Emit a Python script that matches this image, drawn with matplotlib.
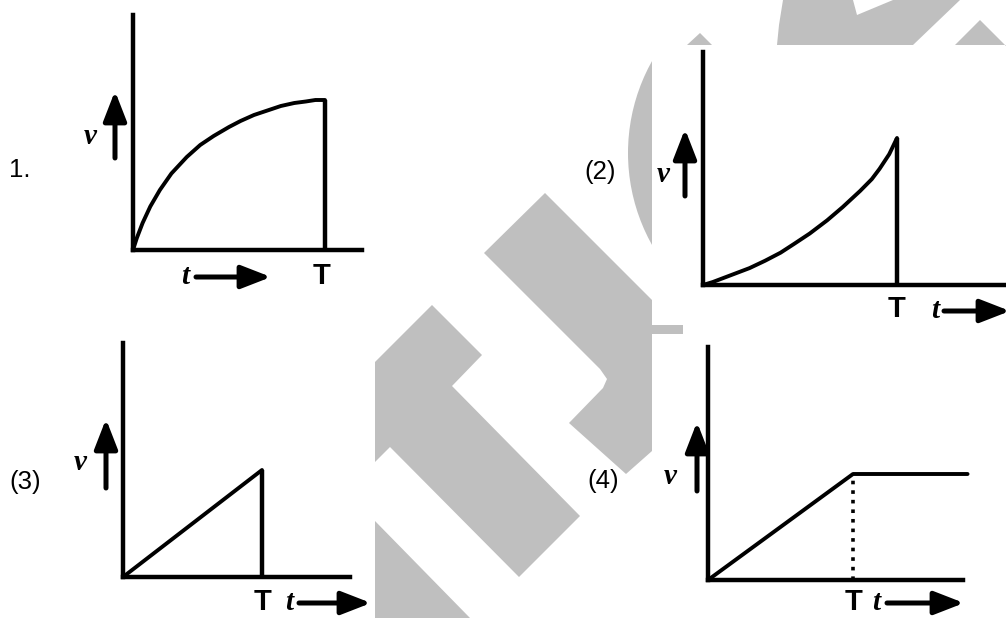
import numpy as np
import matplotlib.pyplot as plt
from matplotlib.patches import Polygon, Circle, Rectangle

W, H = 1006, 618

# velocity-time curves, t in units of T, v in units of v at T
t1 = [0, 0.02, 0.05, 0.09, 0.14, 0.20, 0.28, 0.35, 0.42, 0.50, 0.56, 0.63,
      0.70, 0.77, 0.84, 0.90, 0.95, 1.0]
v1 = [0, 0.08, 0.18, 0.29, 0.40, 0.51, 0.62, 0.70, 0.76, 0.82, 0.86, 0.90,
      0.93, 0.96, 0.98, 0.99, 1.0, 1.0]
t2 = [0, 0.05, 0.10, 0.17, 0.24, 0.32, 0.40, 0.47, 0.55, 0.64, 0.72, 0.81,
      0.87, 0.91, 0.96, 1.0]
v2 = [0, 0.02, 0.045, 0.08, 0.115, 0.165, 0.22, 0.28, 0.35, 0.44, 0.53, 0.64,
      0.72, 0.79, 0.89, 1.0]
t3 = [0, 1.0]
v3 = [0, 1.0]
t4 = [0, 1.0, 1.79]
v4 = [0, 1.0, 1.0]
T = 1.0

labels = ["1.", "(2)", "(3)", "(4)"]

fig = plt.figure(figsize=(W / 100, H / 100), dpi=100)
bg = fig.add_axes([0, 0, 1, 1])
bg.set_xlim(0, W)
bg.set_ylim(H, 0)
bg.axis("off")

# watermark
grey = "#bfbfbf"
wm = [
    [(484, 253), (545, 193), (652, 300), (652, 325), (683, 325), (683, 334),
     (652, 334), (652, 451), (626, 474), (569, 423), (603, 388), (607, 379), (600, 369)],
    [(375, 362), (432, 305), (482, 355), (452, 386), (580, 516), (519, 577),
     (390, 447), (375, 462)],
    [(375, 521), (470, 618), (375, 618)],
    [(687, 45), (700, 33), (712, 45)],
    [(777, 45), (779, 25), (783, 0), (853, 0), (857, 15), (893, 0), (960, 0), (913, 45)],
    [(955, 45), (980, 20), (1006, 46), (1006, 45)],
]
for pts in wm:
    bg.add_patch(Polygon(pts, closed=True, fc=grey, ec="none"))
arc = Circle((816, 153), 188, fc=grey, ec="none")
bg.add_patch(arc)
arc.set_clip_path(Rectangle((560, 45), 92, 255, transform=bg.transData))


def panel(x0, y0, xT, ypk, ytop, xright):
    ax = fig.add_axes([x0 / W, (H - y0) / H, (xright - x0) / W, (y0 - ytop) / H])
    ax.set_xlim(0, (xright - x0) / (xT - x0) * T)
    ax.set_ylim(0, (y0 - ytop) / (y0 - ypk))
    ax.patch.set_alpha(0)
    for s in ["top", "right"]:
        ax.spines[s].set_visible(False)
    for s in ["left", "bottom"]:
        ax.spines[s].set_linewidth(3.2)
    ax.set_xticks([])
    ax.set_yticks([])
    return ax


lw = 2.8
ax1 = panel(133, 250, 325, 100, 15, 362)
ax1.plot(t1, v1, color="black", lw=lw, clip_on=False, solid_capstyle="round")
ax1.vlines(T, 0, v1[-1], color="black", lw=3.2, clip_on=False)

ax2 = panel(703, 285, 897, 138, 52, 1010)
ax2.plot(t2, v2, color="black", lw=lw, clip_on=False, solid_capstyle="round")
ax2.vlines(T, 0, v2[-1], color="black", lw=3.2, clip_on=False)

ax3 = panel(123, 577, 262, 470, 343, 350)
ax3.plot(t3, v3, color="black", lw=lw, clip_on=False, solid_capstyle="round")
ax3.vlines(T, 0, v3[-1], color="black", lw=3.2, clip_on=False)

ax4 = panel(708, 580, 853, 474, 347, 963)
ax4.plot(t4, v4, color="black", lw=lw, clip_on=False, solid_capstyle="round")
ax4.vlines(T, 0, v4[1], color="black", lw=2.6, linestyles=":", clip_on=False)

# option numbers
numfont = dict(family="Liberation Sans", fontsize=18.5, va="center", ha="center")
bg.text(20, 170, labels[0], **numfont)
bg.text(600, 172, labels[1], **numfont)
bg.text(25, 482, labels[2], **numfont)
bg.text(603, 481, labels[3], **numfont)

# scanned axis labels and arrows
vfont = dict(family="Liberation Serif", fontsize=21, fontweight="bold", style="italic",
             va="center", ha="center")
Tfont = dict(family="Liberation Sans", fontsize=21, fontweight="bold", va="center", ha="center")
aprops = dict(arrowstyle="-|>,head_length=0.9,head_width=0.35", lw=3.6, color="black",
              mutation_scale=20, shrinkA=0, shrinkB=0)


def arrow(x0, y0, x1, y1):
    bg.annotate("", xy=(x1, y1), xytext=(x0, y0), arrowprops=aprops,
                annotation_clip=False)


# panel 1
bg.text(90, 136, "v", **vfont)
arrow(115, 158, 115, 91)
bg.text(185, 276, "t", **vfont)
arrow(196, 277, 271, 277)
bg.text(322, 276, "T", **Tfont)

# panel 2
bg.text(663, 174, "v", **vfont)
arrow(685, 196, 685, 129)
bg.text(897, 309, "T", **Tfont)
bg.text(935, 310, "t", **vfont)
arrow(944, 311, 1010, 311)

# panel 3
bg.text(80, 462, "v", **vfont)
arrow(106, 488, 106, 419)
bg.text(263, 602, "T", **Tfont)
bg.text(289, 603, "t", **vfont)
arrow(299, 603, 371, 603)

# panel 4
bg.text(670, 477, "v", **vfont)
arrow(697, 491, 697, 422)
bg.text(854, 602, "T", **Tfont)
bg.text(876, 603, "t", **vfont)
arrow(887, 603, 964, 603)

fig.savefig("out.png", dpi=100)
